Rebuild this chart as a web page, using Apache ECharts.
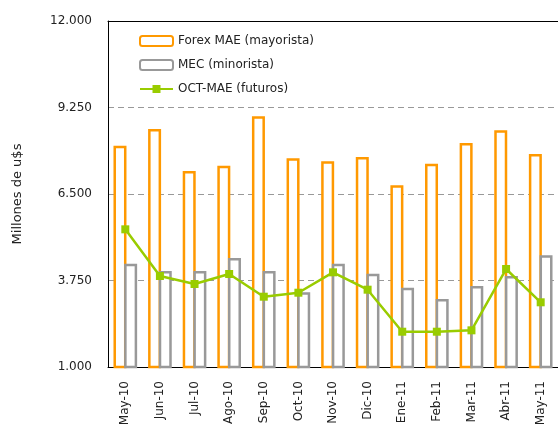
<!DOCTYPE html>
<html><head><meta charset="utf-8">
<script src="https://cdn.jsdelivr.net/npm/echarts@6/dist/echarts.min.js"></script>
<style>html,body{margin:0;padding:0;background:#fff}#c{width:558px;height:439px}</style>
</head><body><div id="c"></div>
<script>
var categories = ['May-10','Jun-10','Jul-10','Ago-10','Sep-10','Oct-10','Nov-10','Dic-10','Ene-11','Feb-11','Mar-11','Abr-11','May-11'];
var forexMAE = [8035, 8566, 7231, 7400, 8970, 7634, 7540, 7676, 6776, 7463, 8121, 8525, 7771];
var mecMinorista = [4284, 4052, 4052, 4465, 4052, 3374, 4284, 3966, 3521, 3162, 3575, 3893, 4551];
var octMAE = [5377, 3893, 3639, 3957, 3235, 3362, 4010, 3458, 2122, 2122, 2166, 4115, 3057];
var yTicks = [1000, 3750, 6500, 9250, 12000];

var FONT = 'DejaVu Sans';
function fmt(v){ return Number(v).toLocaleString('de-DE'); }
var chart = echarts.init(document.getElementById('c'), null, {renderer:'canvas'});
chart.setOption({
  animation: false,
  backgroundColor: '#fff',
  textStyle: {fontFamily: FONT},
  grid: {left: 108, top: 21, bottom: 72, width: 452, show: false, containLabel: false},
  legend: {
    orient: 'vertical', left: 139, top: 35, padding: 0, itemWidth: 33, itemHeight: 10, itemGap: 12,
    textStyle: {fontFamily: FONT, fontSize: 12, color: '#222'},
    data: [
      {name: 'Forex MAE (mayorista)'},
      {name: 'MEC (minorista)'},
      {name: 'OCT-MAE (futuros)'}
    ]
  },
  xAxis: [{
    type: 'category', data: categories,
    axisLine: {lineStyle: {color: '#000', width: 1}},
    axisTick: {show: false},
    axisLabel: {rotate: 90, margin: 14, fontFamily: FONT, fontSize: 12, color: '#222', interval: 0}
  }, {
    type: 'category', data: categories, position: 'top',
    axisLine: {show: true, lineStyle: {color: '#000', width: 1}},
    axisTick: {show: false}, axisLabel: {show: false}, splitLine: {show: false}
  }],
  yAxis: {
    type: 'value', min: 1000, max: 12000,
    name: 'Millones de u$s', nameLocation: 'middle', nameGap: 84, nameRotate: 90,
    nameTextStyle: {fontFamily: FONT, fontSize: 13, color: '#222'},
    axisLine: {show: true, lineStyle: {color: '#000', width: 1}},
    axisTick: {show: false, customValues: yTicks},
    axisLabel: {customValues: yTicks, formatter: fmt, margin: 16, fontFamily: FONT, fontSize: 12, color: '#222'},
    splitLine: {show: true, lineStyle: {color: '#999', type: [6, 4], width: 1}}
  },
  series: [
    {name: 'Forex MAE (mayorista)', type: 'bar', data: forexMAE, barWidth: 13, barGap: '-18%',
     itemStyle: {color: '#fff', borderColor: '#FF9900', borderWidth: 2.5}},
    {name: 'MEC (minorista)', type: 'bar', data: mecMinorista, barWidth: 13, barGap: '-18%',
     itemStyle: {color: '#fff', borderColor: '#999999', borderWidth: 2.5}},
    {name: 'OCT-MAE (futuros)', type: 'line', data: octMAE, symbol: 'rect', symbolSize: 8,
     lineStyle: {color: '#99CC00', width: 2.5}, itemStyle: {color: '#99CC00'}, z: 5}
  ]
});
</script></body></html>
